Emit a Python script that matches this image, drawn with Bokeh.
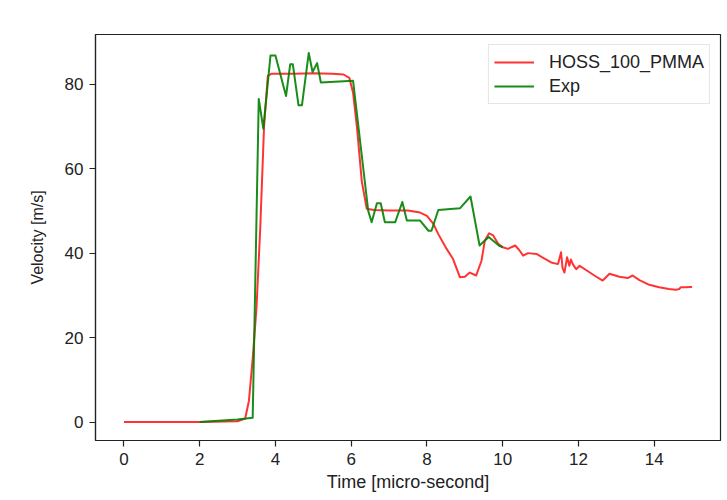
from bokeh.plotting import figure
from bokeh.models import FixedTicker, Range1d
from bokeh.embed import file_html
from bokeh.resources import INLINE

# ---- data ----
hoss_t = [0, 1, 2, 3.0, 3.2, 3.3, 3.4, 3.5, 3.6, 3.7, 3.8, 3.9, 4.5, 5.0, 5.5, 5.8,
          5.95, 6.05, 6.15, 6.28, 6.41, 6.6, 7.0, 7.5, 7.82, 8.0, 8.17, 8.3, 8.52,
          8.69, 8.87, 9.0, 9.13, 9.3, 9.44, 9.53, 9.64, 9.75, 9.88, 10.0, 10.14,
          10.23, 10.33, 10.43, 10.54, 10.67, 10.89, 11.07, 11.28, 11.46, 11.54,
          11.58, 11.63, 11.70, 11.76, 11.80, 11.85, 11.94, 12.03, 12.2, 12.42,
          12.64, 12.82, 13.08, 13.30, 13.43, 13.61, 13.87, 14.13, 14.39, 14.57,
          14.66, 14.70, 14.83, 14.96, 15.0]
hoss_v = [0, 0, 0, 0.2, 0.8, 5, 15, 27, 46, 70, 82, 82.5, 82.5, 82.6, 82.5, 82.3,
          81.5, 78, 70, 57, 50.5, 50.2, 50.1, 50.1, 49.6, 48.8, 46.9, 44.5, 41,
          38.6, 34.3, 34.4, 35.4, 34.7, 38.2, 43, 44.7, 44.2, 42.2, 41.4, 41,
          41.4, 41.8, 40.8, 39.4, 40, 39.8, 38.9, 37.8, 37.4, 40.2,
          36.5, 35.4, 39, 37, 38.5, 37.4, 36.2, 37, 36, 34.7,
          33.5, 35.1, 34.4, 34.1, 34.7, 33.6, 32.5, 31.9, 31.5, 31.3,
          31.5, 31.9, 31.9, 32, 32]

exp_t = [2.0, 2.5, 3.0, 3.40, 3.56, 3.68, 3.87, 4.00, 4.28, 4.39, 4.46, 4.61, 4.70,
         4.88, 4.98, 5.10, 5.20, 6.05, 6.45, 6.54, 6.68, 6.78, 6.89, 7.16, 7.35,
         7.47, 7.82, 8.04, 8.12, 8.30, 8.87, 9.15, 9.39, 9.63, 9.90, 10.0]
exp_v = [0, 0.3, 0.6, 1.0, 76.5, 69.5, 86.8, 86.8, 77.2, 84.7, 84.7, 75.0, 75.0,
         87.4, 82.9, 85.0, 80.4, 80.8, 50.0, 47.3, 51.8, 51.8, 47.3, 47.3, 52.1,
         47.7, 47.7, 45.3, 45.3, 50.2, 50.6, 53.4, 41.8, 43.8, 41.8, 41.4]

x_ticks = [0, 2, 4, 6, 8, 10, 12, 14]
y_ticks = [0, 20, 40, 60, 80]

FONT = "Liberation Sans"
TXT = "#222222"

p = figure(width=725, height=498, output_backend="svg", toolbar_location=None,
           x_range=Range1d(-0.75, 15.75), y_range=Range1d(-4.37, 91.77),
           min_border_left=95, min_border_right=5, min_border_top=34,
           min_border_bottom=58)

p.line(hoss_t, hoss_v, line_color="#ff0000", line_alpha=0.8, line_width=2,
       line_join="round", legend_label="HOSS_100_PMMA")
p.line(exp_t, exp_v, line_color="#008000", line_alpha=0.9, line_width=2,
       line_join="round", legend_label="Exp")

p.grid.visible = False
p.outline_line_color = TXT
p.outline_line_width = 1.2
p.background_fill_color = "white"
p.border_fill_color = "white"

p.xaxis.ticker = FixedTicker(ticks=x_ticks)
p.yaxis.ticker = FixedTicker(ticks=y_ticks)
p.xaxis.axis_label = "Time [micro-second]"
p.yaxis.axis_label = "Velocity [m/s]"

for ax in (p.xaxis, p.yaxis):
    ax.axis_line_color = TXT
    ax.axis_line_width = 1.2
    ax.major_tick_line_color = TXT
    ax.major_tick_line_width = 1.2
    ax.major_tick_out = 6
    ax.major_tick_in = 0
    ax.minor_tick_line_color = None
    ax.major_label_text_font = FONT
    ax.major_label_text_font_size = "17px"
    ax.major_label_text_color = TXT
    ax.axis_label_text_font = FONT
    ax.axis_label_text_font_style = "normal"
    ax.axis_label_text_color = TXT
    ax.major_label_standoff = 6

p.xaxis.axis_label_text_font_size = "18px"
p.yaxis.axis_label_text_font_size = "16px"
p.xaxis.axis_label_standoff = 4
p.yaxis.axis_label_standoff = 16

lg = p.legend[0]
lg.location = "top_right"
lg.margin = 10
lg.padding = 5
lg.spacing = 0
lg.glyph_width = 40
lg.glyph_height = 20
lg.label_height = 24
lg.label_standoff = 15
lg.label_text_font = FONT
lg.label_text_font_size = "18px"
lg.label_text_color = TXT
lg.border_line_color = "#cccccc"
lg.border_line_width = 1
lg.background_fill_color = "white"
lg.background_fill_alpha = 1

open("out.html", "w").write(file_html(p, INLINE))
